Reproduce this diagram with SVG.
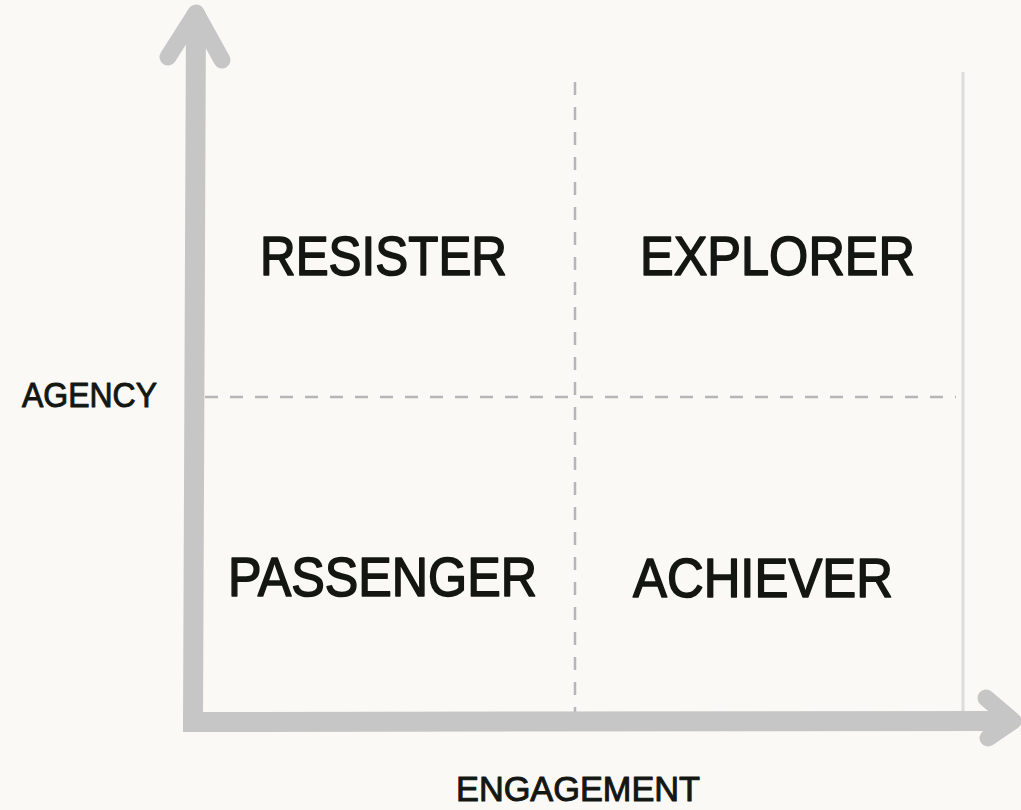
<svg xmlns="http://www.w3.org/2000/svg" width="1021" height="810" viewBox="0 0 1021 810">
  <style>
    .axis { fill: none; stroke: #c6c6c6; stroke-width: 20; stroke-linecap: round; stroke-linejoin: miter; }
    .head { fill: none; stroke: #c6c6c6; stroke-width: 17; stroke-linecap: round; stroke-linejoin: round; }
    .dash { fill: none; stroke: #b6b6b6; stroke-width: 2.5; stroke-dasharray: 13 12; }
    .edge { fill: none; stroke: #dcdcdc; stroke-width: 3; }
    .big { font-family: "Liberation Sans", Arial, sans-serif; font-size: 56px; fill: #141612; stroke: #141612; stroke-width: 1.6; stroke-linejoin: round; }
    .small { font-family: "Liberation Sans", Arial, sans-serif; font-size: 35px; fill: #141612; stroke: #141612; stroke-width: 1; stroke-linejoin: round; }
  </style>
  <rect x="0" y="0" width="1021" height="810" fill="#faf9f6"/>
  <g id="connectors">
    <path class="edge" d="M963,72 L963,712"/>
    <path class="dash" d="M575,82 L575,712"/>
    <path class="dash" d="M205,397 L956,397"/>
    <path class="axis" d="M196,16 L193,722 L1010,721"/>
    <path class="head" d="M168,57 L196,13 L222,60"/>
    <path class="head" d="M986,698 L1013,721 L988,738"/>
  </g>
  <g id="node-resister">
    <text class="big" x="260" y="275" textLength="247" lengthAdjust="spacingAndGlyphs">RESISTER</text>
  </g>
  <g id="node-explorer">
    <text class="big" x="640" y="275" textLength="275" lengthAdjust="spacingAndGlyphs">EXPLORER</text>
  </g>
  <g id="node-passenger">
    <text class="big" x="228" y="596" textLength="309" lengthAdjust="spacingAndGlyphs">PASSENGER</text>
  </g>
  <g id="node-achiever">
    <text class="big" x="633" y="597" textLength="260" lengthAdjust="spacingAndGlyphs">ACHIEVER</text>
  </g>
  <g id="label-agency">
    <text class="small" x="22" y="407" textLength="135" lengthAdjust="spacingAndGlyphs">AGENCY</text>
  </g>
  <g id="label-engagement">
    <text class="small" x="456" y="801" textLength="244" lengthAdjust="spacingAndGlyphs">ENGAGEMENT</text>
  </g>
</svg>
